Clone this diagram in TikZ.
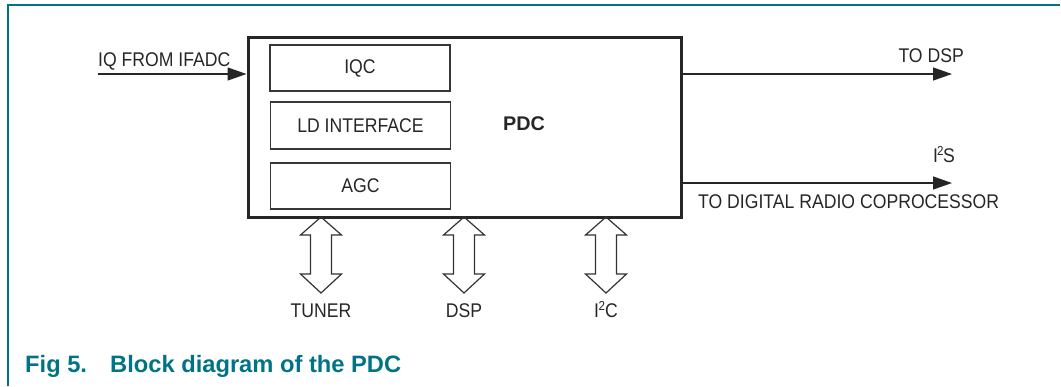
\documentclass[tikz,border=0pt]{standalone}
\usepackage{fontspec}
\usetikzlibrary{arrows.meta}
\newfontfamily\diagfont{Liberation Sans}[FakeStretch=0.89]
\newfontfamily\boldfont{Liberation Sans}[BoldFont={Liberation Sans Bold}]
\definecolor{nxpteal}{RGB}{0,116,135}
\definecolor{boxgray}{RGB}{55,55,55}
\tikzset{
  lbl/.style={inner sep=0pt, font=\diagfont\fontsize{19.8}{22}\selectfont, text=black!85},
  subbox/.style={draw=boxgray, line width=1.5pt, minimum width=180pt, minimum height=46pt, inner sep=0pt, font=\diagfont\fontsize{19.8}{22}\selectfont, text=black!85},
  mainbox/.style={draw=black!85, line width=3pt, minimum width=433pt, minimum height=180pt, inner sep=0pt},
  sig/.style={line width=1.3pt, draw=black!85, -{Triangle[length=19pt,width=13pt]}},
  caption/.style={inner sep=0pt, font=\boldfont\bfseries\fontsize{23.7}{26}\selectfont, text=nxpteal},
  bidir/.pic={
    \draw[line width=1.2pt, draw=black!80, line join=miter]
      (0,0) -- (20.5,18) -- (10.5,18) -- (10.5,57) -- (20.5,57) -- (0,76)
      -- (-20.5,57) -- (-10.5,57) -- (-10.5,18) -- (-20.5,18) -- cycle;
  }
}
\newcommand{\twosup}{\raisebox{0.6ex}{\fontsize{13}{13}\selectfont 2}}
\begin{document}
\begin{tikzpicture}[x=1pt, y=-1pt]
\useasboundingbox (0,0) rectangle (1061,386);
% figure frame
\draw[nxpteal, line width=1.6pt] (8,386) -- (8,5) -- (1060,5);

% main block
\node[mainbox] (pdc) at (464.5,127) {};
\node[font=\boldfont\bfseries\fontsize{19.8}{22}\selectfont, text=black!85, inner sep=0pt] (pdclbl) at (524,124) {PDC};

% sub blocks
\node[subbox] (iqc) at (360,68) {IQC};
\node[subbox, minimum height=47pt] (ld) at (360.5,125.5) {LD INTERFACE};
\node[subbox] (agc) at (360.5,186) {AGC};

% input
\coordinate (inL) at (98,74);
\draw[sig] (inL) -- (inL -| pdc.west);
\node[lbl, anchor=base west] (inlbl) at (98,66) {IQ FROM IFADC};

% outputs
\coordinate (dspR) at (952,74);
\draw[sig] (dspR -| pdc.east) -- (dspR);
\node[lbl, anchor=base east] (dsplbl) at (964,62) {TO DSP};

\coordinate (i2sR) at (952,183);
\draw[sig] (i2sR -| pdc.east) -- (i2sR);
\node[lbl, anchor=base east] (i2slbl) at (955,162) {I\kern-1pt\twosup\kern-0.5pt S};
\node[lbl, anchor=base west] (coplbl) at (698,208) {TO DIGITAL RADIO COPROCESSOR};

% bidirectional buses
\pic at (321,217) {bidir};
\pic at (464,217) {bidir};
\pic at (606,217) {bidir};
\node[lbl, anchor=base] (tuner) at (321,317) {TUNER};
\node[lbl, anchor=base] (dsp) at (464,317) {DSP};
\node[lbl, anchor=base] (i2c) at (606,317) {I\kern-0.5pt\twosup C};

% caption
\node[caption, anchor=base west] (fig) at (25,372) {Fig 5.};
\node[caption, anchor=base west] (figtitle) at (110,372) {Block diagram of the PDC};
\end{tikzpicture}
\end{document}
